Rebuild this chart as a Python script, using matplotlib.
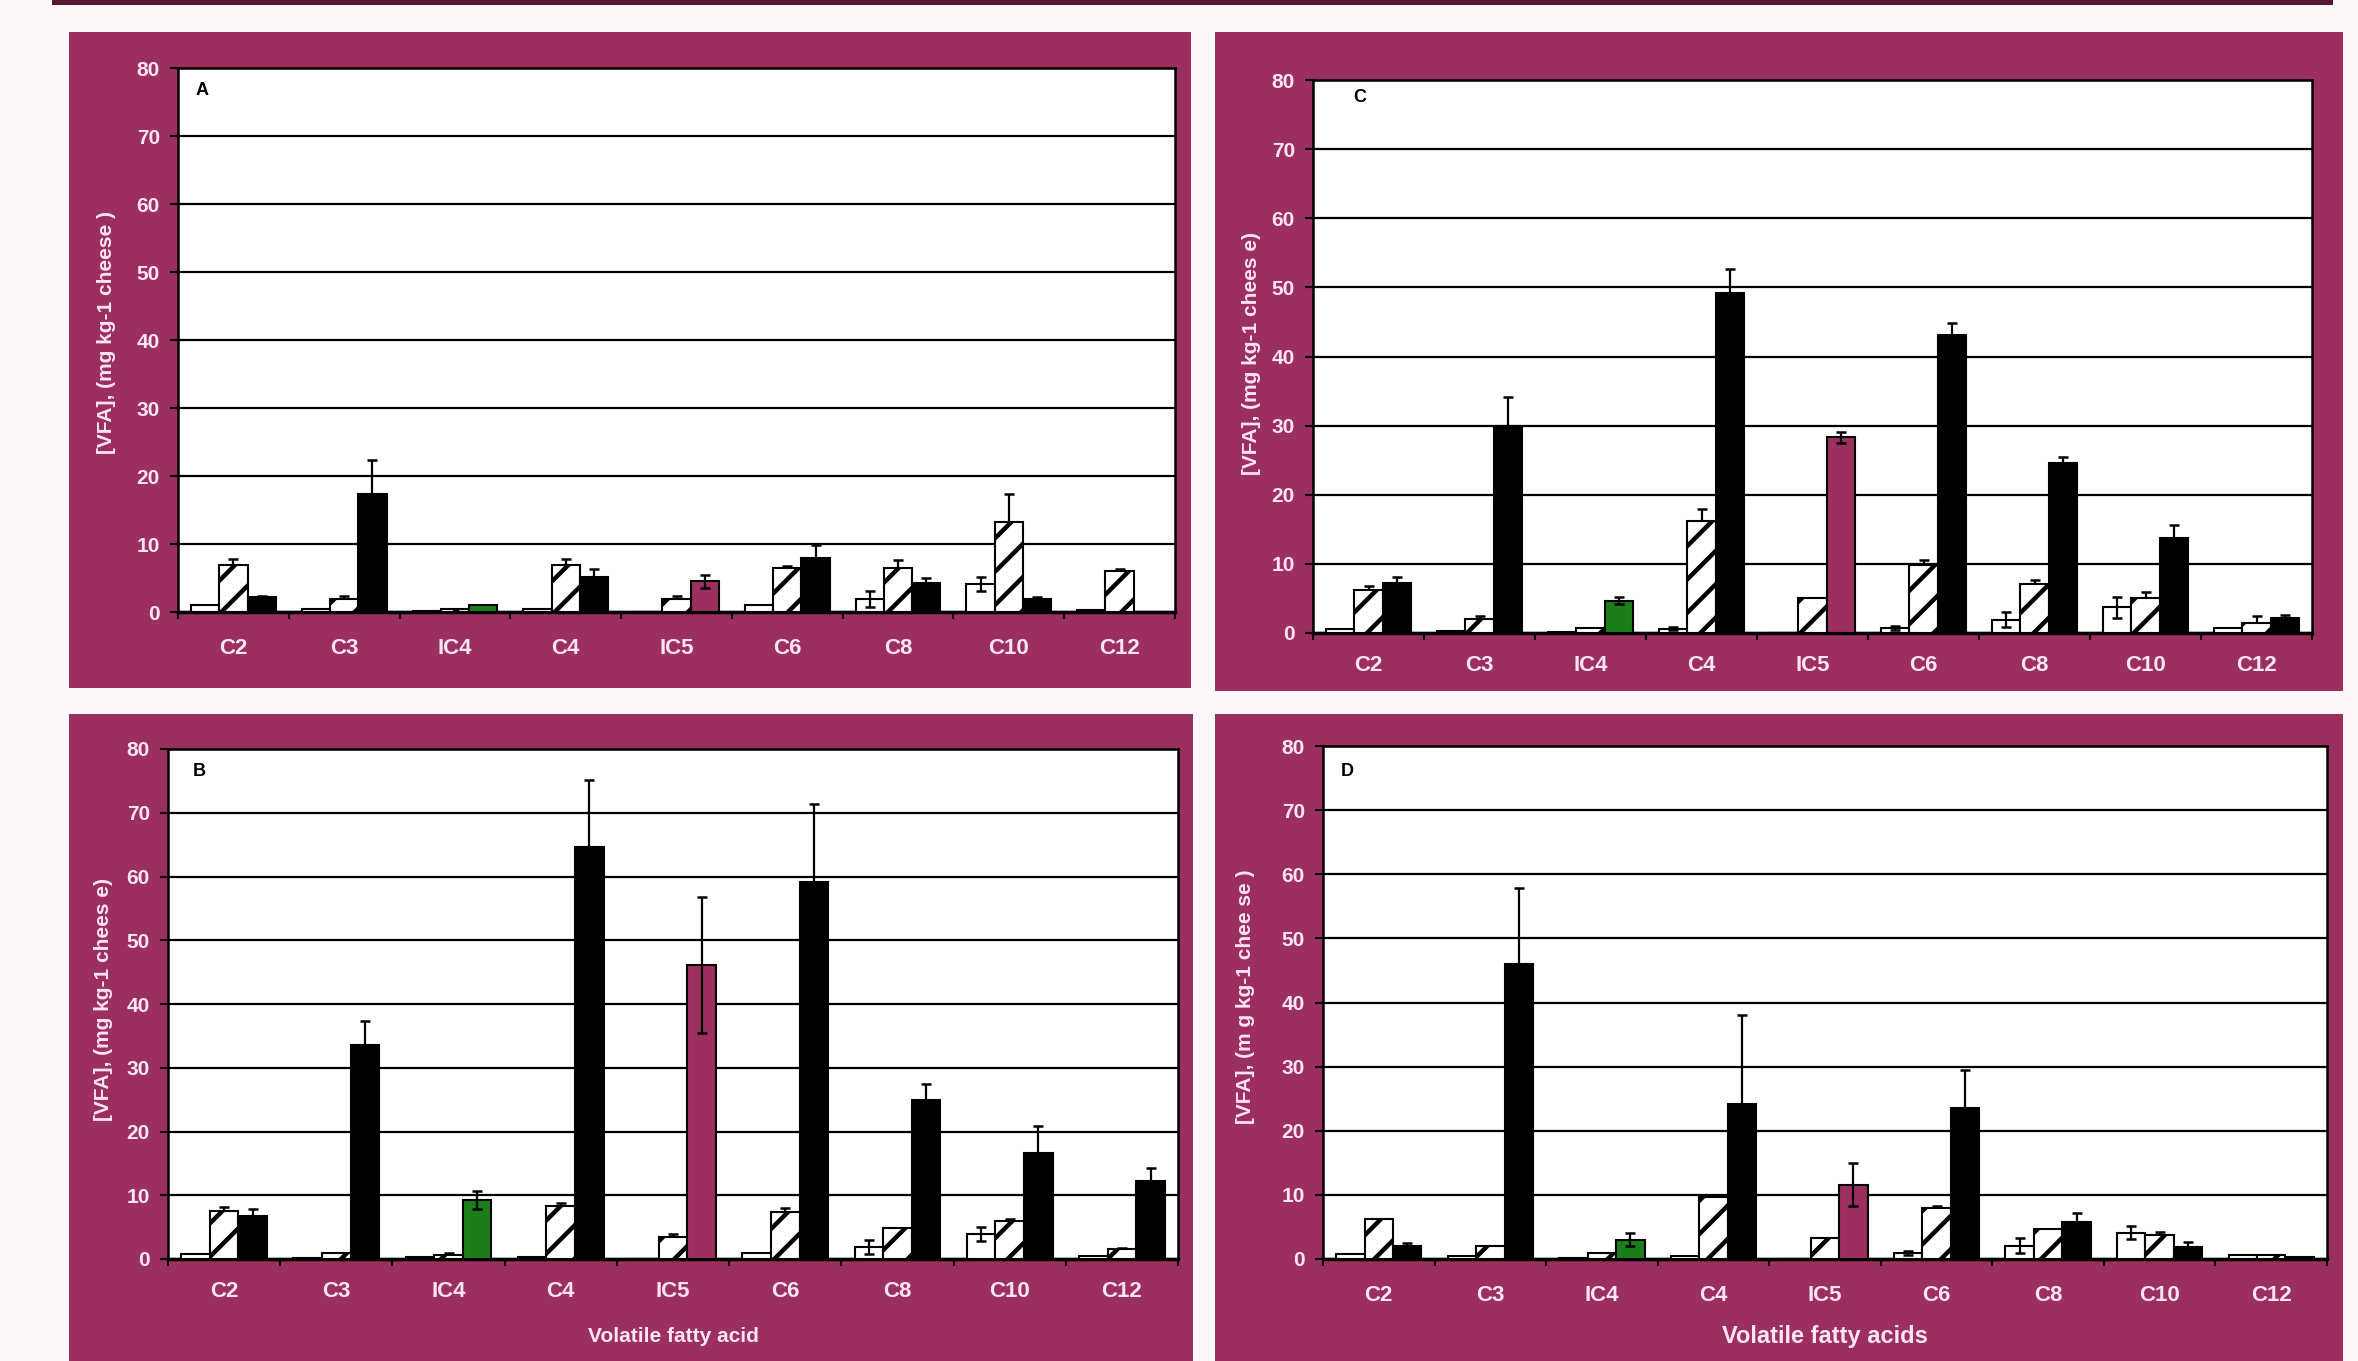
#!/usr/bin/env python3
"""Volatile fatty acid concentrations in cheese - four panels (A-D), grouped bars with error bars."""
import numpy as np
import matplotlib
matplotlib.use('Agg')
import matplotlib.pyplot as plt
from matplotlib.patches import Rectangle

CATEGORIES = ['C2', 'C3', 'IC4', 'C4', 'IC5', 'C6', 'C8', 'C10', 'C12']

# panel A
A_OPEN = [1.0, 0.4, 0.2, 0.5, 0.0, 1.0, 1.9, 4.1, 0.3]
A_OPEN_ERR = [0, 0, 0, 0, 0, 0, 1.2, 1.0, 0]
A_HATCH = [6.9, 1.9, 0.5, 6.9, 1.9, 6.4, 6.4, 13.3, 6.0]
A_HATCH_ERR = [0.9, 0.4, 0, 0.9, 0.4, 0.4, 1.3, 4.0, 0.3]
A_SOLID = [2.2, 17.4, 1.0, 5.1, 4.5, 7.9, 4.2, 1.9, 0.0]
A_SOLID_ERR = [0.2, 4.9, 0, 1.2, 1.0, 1.9, 0.8, 0.3, 0]

# panel B
B_OPEN = [0.8, 0.1, 0.3, 0.3, 0.0, 1.0, 1.9, 3.9, 0.4]
B_OPEN_ERR = [0, 0, 0, 0, 0, 0, 1.1, 1.1, 0]
B_HATCH = [7.6, 1.0, 0.6, 8.3, 3.4, 7.3, 4.8, 5.9, 1.5]
B_HATCH_ERR = [0.6, 0, 0.3, 0.5, 0.5, 0.7, 0, 0.4, 0.2]
B_SOLID = [6.8, 33.6, 9.2, 64.7, 46.1, 59.2, 25.0, 16.6, 12.3]
B_SOLID_ERR = [1.1, 3.7, 1.4, 10.5, 10.7, 12.2, 2.4, 4.3, 2.0]

# panel C
C_OPEN = [0.6, 0.3, 0.1, 0.6, 0.0, 0.7, 1.9, 3.7, 0.7]
C_OPEN_ERR = [0, 0, 0, 0.2, 0, 0.3, 1.1, 1.5, 0]
C_HATCH = [6.2, 2.0, 0.7, 16.2, 5.0, 9.8, 7.1, 5.1, 1.5]
C_HATCH_ERR = [0.6, 0.5, 0, 1.8, 0, 0.7, 0.5, 0.9, 0.9]
C_SOLID = [7.2, 29.9, 4.7, 49.2, 28.3, 43.1, 24.6, 13.8, 2.2]
C_SOLID_ERR = [0.9, 4.2, 0.5, 3.5, 0.8, 1.8, 0.8, 1.8, 0.4]

# panel D
D_OPEN = [0.8, 0.4, 0.2, 0.4, 0.0, 1.0, 2.1, 4.1, 0.6]
D_OPEN_ERR = [0, 0, 0, 0, 0, 0.3, 1.1, 1.0, 0]
D_HATCH = [6.2, 2.0, 1.0, 9.6, 3.3, 7.9, 4.7, 3.8, 0.6]
D_HATCH_ERR = [0, 0, 0, 0, 0, 0.4, 0, 0.4, 0]
D_SOLID = [2.1, 46.0, 3.0, 24.2, 11.6, 23.6, 5.8, 1.9, 0.3]
D_SOLID_ERR = [0.4, 11.9, 1.0, 13.9, 3.4, 5.9, 1.3, 0.8, 0]

Y_LABELS = {
    'A': '[VFA], (mg kg-1 cheese )',
    'B': '[VFA], (mg kg-1 chees e)',
    'C': '[VFA], (mg kg-1 chees e)',
    'D': '[VFA], (m g kg-1 chee se )',
}
X_LABELS = {'B': 'Volatile fatty acid', 'D': 'Volatile fatty acids'}

MAROON = '#9a2f60'
GREEN = '#1a7f1a'
TICK_TXT = '#ffe4f2'
W, H = 2358, 1361

plt.rcParams['font.family'] = ['Liberation Sans', 'DejaVu Sans']
plt.rcParams['hatch.linewidth'] = 3.2

fig = plt.figure(figsize=(W / 100, H / 100), dpi=100, facecolor='#fef8fb')


def frame(x0, y0, x1, y1, color):
    # rectangle in pixel coords (y from top), kept behind the axes
    fig.patches.append(Rectangle((x0 / W, 1 - y1 / H), (x1 - x0) / W, (y1 - y0) / H,
                                 transform=fig.transFigure, facecolor=color,
                                 edgecolor='none', zorder=-10))


# dark band at the very top
frame(52, 0, 2333, 5, '#5a1534')

# (maroon box, plot area, ylabel x, ylabel y, letter position, xtick pad)
LAYOUT = {
    'A': ((69, 32, 1191, 688), (178, 68, 1175, 612), -0.072, 0.513, (0.018, 0.958), 19),
    'C': ((1215, 32, 2343, 691), (1313, 80, 2312, 633), -0.062, 0.505, (0.04, 0.968), 16),
    'B': ((69, 714, 1193, 1361), (168, 749, 1178, 1259), -0.064, 0.508, (0.025, 0.955), 16),
    'D': ((1215, 714, 2343, 1361), (1323, 746, 2327, 1259), -0.077, 0.512, (0.018, 0.95), 19),
}
XLABEL_SIZE = {'B': 15, 'D': 17}

DATA = {
    'A': (A_OPEN, A_OPEN_ERR, A_HATCH, A_HATCH_ERR, A_SOLID, A_SOLID_ERR),
    'B': (B_OPEN, B_OPEN_ERR, B_HATCH, B_HATCH_ERR, B_SOLID, B_SOLID_ERR),
    'C': (C_OPEN, C_OPEN_ERR, C_HATCH, C_HATCH_ERR, C_SOLID, C_SOLID_ERR),
    'D': (D_OPEN, D_OPEN_ERR, D_HATCH, D_HATCH_ERR, D_SOLID, D_SOLID_ERR),
}

solid_colors = ['black'] * len(CATEGORIES)
solid_colors[CATEGORIES.index('IC4')] = GREEN
solid_colors[CATEGORIES.index('IC5')] = MAROON

x = np.arange(len(CATEGORIES))
bw = 0.255


def errbars(ax, xs, vals, errs, z):
    errs = np.asarray(errs, dtype=float)
    m = errs > 0
    if m.any():
        ax.errorbar(xs[m], np.asarray(vals)[m], yerr=errs[m], fmt='none', ecolor='black',
                    elinewidth=1.6, capsize=3.5, capthick=1.8, zorder=z)


for key, (box, area, ylx, yly, letter_pos, xpad) in LAYOUT.items():
    frame(*box, MAROON)
    l, t, r, b = area
    ax = fig.add_axes([l / W, 1 - b / H, (r - l) / W, (b - t) / H])
    ax.set_facecolor('white')
    op, ope, ha, hae, so, soe = DATA[key]

    ax.bar(x - bw, op, bw, facecolor='white', edgecolor='black', linewidth=1.5, zorder=3)
    ax.bar(x, ha, bw, facecolor='white', edgecolor='black', hatch='/', linewidth=1.5, zorder=3)
    ax.bar(x + bw, so, bw, color=solid_colors, edgecolor='black', linewidth=1.5, zorder=3)
    errbars(ax, x - bw, op, ope, 4)
    errbars(ax, x, ha, hae, 2.5)
    errbars(ax, x + bw, so, soe, 4)

    ax.set_xlim(-0.5, len(CATEGORIES) - 0.5)
    ax.set_ylim(0, 80)
    ax.set_yticks(np.arange(0, 81, 10))
    ax.yaxis.grid(True, color='black', linewidth=1.6)
    ax.set_axisbelow(True)
    ax.set_xticks(x)
    ax.set_xticklabels(CATEGORIES)
    ax.set_xticks(np.arange(-0.5, len(CATEGORIES)), minor=True)
    ax.tick_params(axis='x', which='major', length=0, pad=xpad, labelsize=16,
                   labelcolor=TICK_TXT)
    ax.tick_params(axis='x', which='minor', length=5, width=1.5, direction='out', color='black')
    ax.tick_params(axis='y', length=6, width=1.5, color='black', pad=7, labelsize=15,
                   labelcolor=TICK_TXT)
    for lab in ax.get_xticklabels() + ax.get_yticklabels():
        lab.set_fontweight('bold')
    for s in ax.spines.values():
        s.set_color('black')
        s.set_linewidth(1.8)
    ax.spines['bottom'].set_linewidth(2.5)

    ax.set_ylabel(Y_LABELS[key], color=TICK_TXT, fontsize=15, fontweight='bold', va='center')
    ax.yaxis.set_label_coords(ylx, yly)
    if key in X_LABELS:
        ax.set_xlabel(X_LABELS[key], color=TICK_TXT, fontsize=XLABEL_SIZE[key],
                      fontweight='bold', va='center')
        ax.xaxis.set_label_coords(0.5, -0.152)

    ax.text(letter_pos[0], letter_pos[1], key, transform=ax.transAxes, ha='left', va='center',
            fontsize=13, fontweight='bold', color='black')

fig.savefig('out.png', dpi=100, facecolor=fig.get_facecolor())
